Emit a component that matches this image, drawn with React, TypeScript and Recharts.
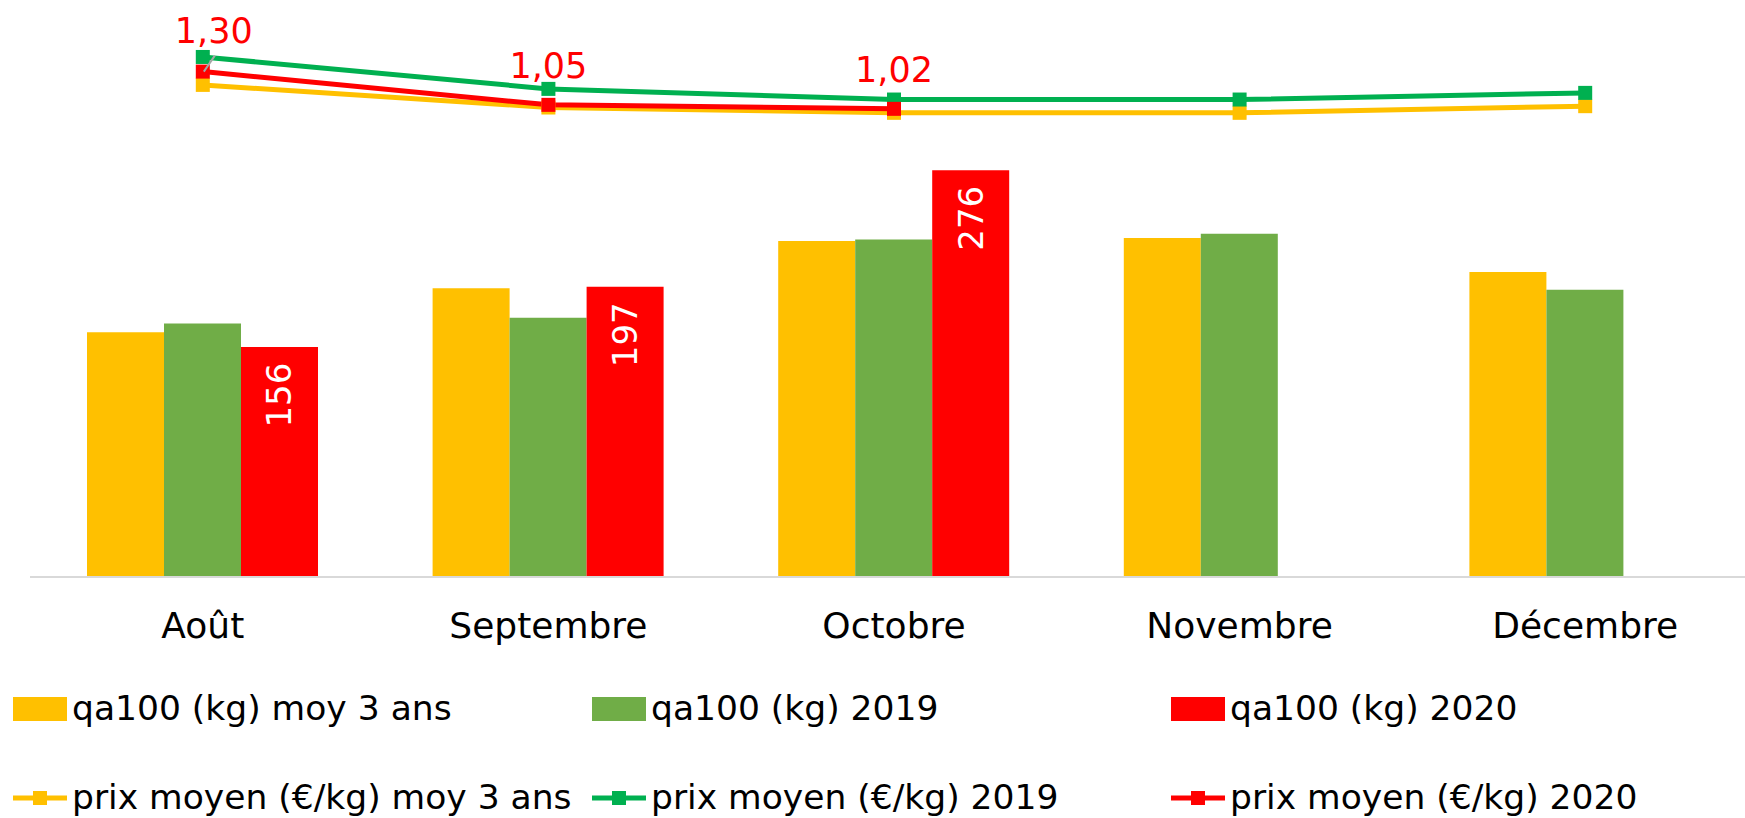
import React from 'react'
import {
  ComposedChart, Bar, Line, XAxis, YAxis, LabelList,
} from 'recharts'

const months = ['Août', 'Septembre', 'Octobre', 'Novembre', 'Décembre']

// quantités pour 100 (kg)
const qaMoy3 = [166, 196, 228, 230, 207]
const qa2019 = [172, 176, 229, 233, 195]
const qa2020 = [156, 197, 276, null, null]

// prix moyen (€/kg)
const prixMoy3 = [1.2, 1.03, 0.99, 0.99, 1.04]
const prix2019 = [1.41, 1.17, 1.09, 1.09, 1.14]
const prix2020 = [1.3, 1.05, 1.02, null, null]

const barLegend = ['qa100 (kg) moy 3 ans', 'qa100 (kg) 2019', 'qa100 (kg) 2020']
const lineLegend = ['prix moyen (€/kg) moy 3 ans', 'prix moyen (€/kg) 2019', 'prix moyen (€/kg) 2020']

const YELLOW = '#FFC000'
const BAR_GREEN = '#70AD47'
const LINE_GREEN = '#00B050'
const RED = '#FF0000'
const FONT = '"DejaVu Sans", sans-serif'

const barColors = [YELLOW, BAR_GREEN, RED]
const lineColors = [YELLOW, LINE_GREEN, RED]

const data = months.map((month, i) => ({
  month,
  qaMoy3: qaMoy3[i],
  qa2019: qa2019[i],
  qa2020: qa2020[i],
  prixMoy3: prixMoy3[i],
  prix2019: prix2019[i],
  prix2020: prix2020[i],
}))

const squareDot = (color: string) => (props: any) => {
  const { cx, cy, index } = props
  if (cx == null || cy == null || props.value == null) return <g key={`d-${index}`} />
  return <rect key={`d-${index}`} x={cx - 7} y={cy - 7} width={14} height={14} fill={color} />
}

function BarValueLabel(props: any) {
  const { x, y, width, value } = props
  if (value == null) return null
  const cx = x + width / 2
  const cy = y + 48
  return (
    <text
      x={cx} y={cy}
      transform={`rotate(-90 ${cx} ${cy})`}
      textAnchor="middle" dominantBaseline="central"
      fill="#fff" fontSize={34} fontFamily={FONT}
    >
      {value}
    </text>
  )
}

function PriceLabel(props: any) {
  const { x, y, value, index } = props
  if (value == null) return null
  const txt = Number(value).toFixed(2).replace('.', ',')
  // le premier label est décalé, avec un trait de rappel
  if (index === 0) {
    return (
      <g>
        <line x1={x + 1} y1={y} x2={x + 12} y2={y - 16} stroke="#A6A6A6" strokeWidth={2} />
        <text x={x + 11} y={y - 29} textAnchor="middle" fill={RED} fontSize={35} fontFamily={FONT}>{txt}</text>
      </g>
    )
  }
  return (
    <text x={x} y={y - 27} textAnchor="middle" fill={RED} fontSize={35} fontFamily={FONT}>{txt}</text>
  )
}

function LegendBlock() {
  const colText = [72, 651, 1230]
  const colIcon = [13, 592, 1171]
  return (
    <svg width={1745} height={138} style={{ position: 'absolute', left: 0, top: 680 }}>
      {barLegend.map((label, i) => (
        <g key={label}>
          <rect x={colIcon[i]} y={17} width={54} height={24} fill={barColors[i]} />
          <text x={colText[i]} y={40} fontSize={34.5} fontFamily={FONT} fill="#000">{label}</text>
        </g>
      ))}
      {lineLegend.map((label, i) => (
        <g key={label}>
          <line x1={colIcon[i]} x2={colIcon[i] + 54} y1={118} y2={118} stroke={lineColors[i]} strokeWidth={5} />
          <rect x={colIcon[i] + 20} y={111} width={14} height={14} fill={lineColors[i]} />
          <text x={colText[i]} y={129} fontSize={34.5} fontFamily={FONT} fill="#000">{label}</text>
        </g>
      ))}
    </svg>
  )
}

export default function App() {
  return (
    <div style={{
      position: 'absolute', left: 0, top: 0, width: 1745, height: 818,
      overflow: 'hidden', background: '#fff',
    }}>
      <ComposedChart
        width={1760}
        height={818}
        data={data}
        margin={{ top: 45, right: 2, bottom: 181, left: 30 }}
        barGap={0}
        barCategoryGap={57}
      >
        <XAxis
          dataKey="month"
          height={60}
          tickLine={false}
          tickMargin={29}
          axisLine={{ stroke: '#D9D9D9', strokeWidth: 2 }}
          tick={{ fontSize: 36, fill: '#000', fontFamily: FONT }}
          interval={0}
        />
        <YAxis yAxisId="qa" domain={[0, 361]} hide />
        <YAxis yAxisId="prix" orientation="right" domain={[-2.5, 1.5]} hide />

        <Bar yAxisId="qa" dataKey="qaMoy3" fill={YELLOW} isAnimationActive={false} />
        <Bar yAxisId="qa" dataKey="qa2019" fill={BAR_GREEN} isAnimationActive={false} />
        <Bar yAxisId="qa" dataKey="qa2020" fill={RED} isAnimationActive={false}>
          <LabelList dataKey="qa2020" content={<BarValueLabel />} />
        </Bar>

        <Line
          yAxisId="prix" dataKey="prixMoy3" stroke={YELLOW} strokeWidth={5}
          dot={squareDot(YELLOW)} activeDot={false} isAnimationActive={false}
        />
        <Line
          yAxisId="prix" dataKey="prix2019" stroke={LINE_GREEN} strokeWidth={5}
          dot={squareDot(LINE_GREEN)} activeDot={false} isAnimationActive={false}
        />
        <Line
          yAxisId="prix" dataKey="prix2020" stroke={RED} strokeWidth={5}
          dot={squareDot(RED)} activeDot={false} isAnimationActive={false}
        >
          <LabelList dataKey="prix2020" content={<PriceLabel />} />
        </Line>
      </ComposedChart>
      <LegendBlock />
    </div>
  )
}
